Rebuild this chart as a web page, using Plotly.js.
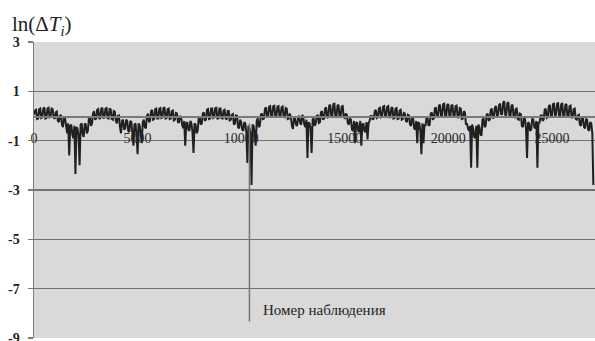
<!DOCTYPE html>
<html>
<head>
<meta charset="utf-8">
<script src="https://cdn.plot.ly/plotly-3.0.1.min.js"></script>
<style>
  html, body { margin: 0; padding: 0; background: #ffffff; }
  #chart { width: 595px; height: 341px; }
</style>
</head>
<body>
<div id="chart"></div>
<script>
// Observation number: one reading every 50 observations, starting at 0
const obsStart = 0;
const obsStep = 50;

// ln(ΔT_i) readings, twenty per 1000 observations
const lnDeltaT = [
  0.05, 0.22, 0.25, -0.12, -0.1, 0.27, 0.3, -0.08, -0.05, 0.3, 0.35, -0.1, -0.08, 0.3, 0.33, -0.05, -0.02, 0.3, 0.28, -0.05,
  -0.12, 0.15, 0.18, -0.2, -0.25, 0.0, 0.05, -0.35, -0.45, -0.05, -0.1, -0.55, -0.7, -0.3, -1.6, -0.4, -0.35, -0.75, -0.9, -0.4,
  -2.35, -0.45, -0.5, -0.8, -2.0, -0.35, -0.3, -0.75, -0.85, -0.3, -0.35, -0.7, -0.6, -0.1, -0.05, -0.4, -0.3, 0.1, 0.2, -0.15,
  -0.1, 0.25, 0.28, -0.12, -0.08, 0.3, 0.33, -0.1, -0.05, 0.3, 0.32, -0.08, -0.1, 0.28, 0.27, -0.12, -0.15, 0.2, 0.18, -0.2,
  -0.3, 0.0, 0.02, -0.45, -0.7, -0.2, -0.15, -0.55, -0.5, -0.15, -0.2, -0.6, -0.65, -0.2, -0.25, -0.7, -1.2, -0.35, -0.3, -0.75,
  -1.55, -0.3, -0.4, -0.7, -1.1, -0.25, -0.15, -0.45, -0.5, 0.0, 0.1, -0.25, -0.2, 0.2, 0.25, -0.15, -0.12, 0.28, 0.3, -0.1,
  -0.1, 0.3, 0.32, -0.08, -0.05, 0.32, 0.35, -0.1, -0.08, 0.28, 0.3, -0.12, -0.1, 0.2, 0.22, -0.18, -0.15, 0.12, 0.1, -0.25,
  -0.25, 0.0, -0.05, -0.35, -0.5, -0.2, -1.2, -0.3, -0.25, -0.55, -0.6, -0.2, -0.3, -0.65, -1.5, -0.3, -0.35, -0.7, -0.6, -0.1,
  -0.05, -0.35, -0.3, 0.1, 0.15, -0.2, -0.15, 0.25, 0.28, -0.12, -0.1, 0.3, 0.3, -0.08, -0.05, 0.32, 0.33, -0.1, -0.1, 0.3,
  0.3, -0.08, -0.1, 0.22, 0.25, -0.1, -0.12, 0.2, 0.2, -0.18, -0.15, 0.05, 0.08, -0.35, -0.3, 0.02, 0.0, -0.45, -0.5, -0.15,
  -0.25, -0.55, -0.6, -0.25, -0.3, -0.65, -1.9, -0.4, -0.5, -0.7, -2.8, -0.35, -0.4, -0.7, -1.2, -0.2, -0.1, -0.45, -0.4, 0.05,
  0.1, -0.12, -0.1, 0.3, 0.35, -0.05, 0.0, 0.38, 0.4, 0.0, 0.02, 0.4, 0.42, -0.05, -0.02, 0.38, 0.4, 0.02, 0.0, 0.35,
  0.38, -0.02, -0.05, 0.32, 0.3, -0.12, -0.1, 0.1, -0.05, -0.4, -0.52, -0.1, -0.1, -0.35, -0.4, -0.05, 0.0, -0.3, -0.35, 0.05,
  -0.05, -0.35, -0.45, -0.15, -1.7, -0.25, -0.3, -0.5, -1.5, -0.15, -0.1, -0.4, -0.3, 0.0, 0.05, -0.28, -0.25, 0.15, 0.2, -0.15,
  -0.1, 0.3, 0.35, -0.08, -0.05, 0.42, 0.45, -0.02, 0.0, 0.48, 0.5, -0.02, -0.05, 0.42, 0.45, -0.05, -0.02, 0.38, 0.4, -0.05,
  -0.08, 0.1, 0.05, -0.3, -0.35, -0.1, -0.15, -0.55, -0.6, -0.2, -1.1, -0.3, -0.25, -0.6, -0.65, -0.2, -1.2, -0.35, -0.3, -0.6,
  -0.65, -0.25, -0.95, -0.3, -0.2, 0.0, 0.0, -0.15, -0.1, 0.2, 0.25, -0.08, -0.05, 0.3, 0.33, -0.05, -0.02, 0.38, 0.4, -0.02,
  0.0, 0.38, 0.4, -0.05, -0.05, 0.32, 0.35, -0.1, -0.08, 0.3, 0.32, -0.12, -0.1, 0.22, 0.25, -0.15, -0.12, 0.12, 0.1, -0.2,
  -0.25, 0.05, 0.02, -0.35, -0.4, -0.05, -0.1, -0.5, -0.55, -0.2, -1.1, -0.25, -0.3, -0.6, -1.55, -0.3, -1.1, -0.35, -0.4, -0.05,
  -0.1, -0.4, -0.35, 0.1, 0.15, -0.12, -0.1, 0.3, 0.35, -0.05, 0.0, 0.42, 0.45, -0.02, 0.02, 0.48, 0.5, 0.0, 0.0, 0.45,
  0.48, 0.0, 0.02, 0.42, 0.45, -0.05, -0.02, 0.4, 0.42, -0.08, -0.05, 0.32, 0.3, -0.12, -0.1, 0.2, 0.15, -0.35, -0.3, -0.5,
  -0.6, -0.4, -2.1, -0.35, -0.5, -0.85, -0.9, -0.4, -2.1, -0.35, -0.45, -0.75, -0.8, -0.15, -0.1, -0.45, -0.4, 0.05, 0.1, -0.2,
  -0.15, 0.25, 0.3, -0.1, -0.05, 0.35, 0.4, 0.0, 0.05, 0.45, 0.5, 0.05, 0.08, 0.55, 0.6, 0.02, 0.05, 0.52, 0.55, 0.0,
  0.0, 0.42, 0.45, -0.02, -0.05, 0.28, 0.3, -0.12, -0.15, 0.1, 0.08, -0.4, -0.45, -0.1, -0.12, -0.5, -1.7, -0.25, -0.3, -0.6,
  -0.55, -0.1, -0.15, -0.45, -0.5, -0.2, -2.1, -0.25, -0.3, 0.0, 0.05, -0.2, -0.15, 0.25, 0.3, -0.08, -0.05, 0.4, 0.45, -0.02,
  0.0, 0.48, 0.5, 0.02, 0.05, 0.5, 0.52, 0.0, 0.02, 0.48, 0.5, -0.02, 0.0, 0.45, 0.48, -0.05, -0.02, 0.4, 0.42, -0.08,
  -0.05, 0.28, 0.3, -0.12, -0.15, 0.02, 0.05, -0.35, -0.4, -0.05, -0.1, -0.45, -0.5, -0.12, -0.15, -0.55, -0.6, -0.25, -0.3, -0.7, -2.8
];

// Axis ticks and labels
const xTickVals = [0, 5000, 10000, 15000, 20000, 25000];
const xTickText = ['0', '5000', '10000', '15000', '20000', '25000'];
const yTickVals = [3, 1, -1, -3, -5, -7, -9];
const yTickText = ['3', '1', '-1', '-3', '-5', '-7', '-9'];

// Marker line dropped from the deepest dip down to the caption
const markerObs = 10400;
const markerTop = -0.3;
const markerBottom = -8.33;

// Caption text and where it sits
const captionText = 'Номер наблюдения';
const captionObs = 10950;
const captionLevel = -7.85;

const obsIndex = lnDeltaT.map((_, i) => obsStart + i * obsStep);

const serif = '"Liberation Serif", "Times New Roman", serif';

const trace = {
  x: obsIndex,
  y: lnDeltaT,
  type: 'scatter',
  mode: 'lines',
  line: { color: '#202020', width: 2 },
  hoverinfo: 'skip'
};

const layout = {
  width: 595,
  height: 341,
  margin: { l: 34, r: 0, t: 42, b: 3, pad: 0 },
  paper_bgcolor: '#ffffff',
  plot_bgcolor: '#d9d9d9',
  showlegend: false,
  title: {
    text: 'ln(Δ<i>T<sub>i</sub></i>)',
    font: { family: serif, size: 21, color: '#222222' },
    xref: 'container', yref: 'container',
    x: 0.02, xanchor: 'left',
    y: 0.93, yanchor: 'middle'
  },
  xaxis: {
    range: [0, 27080],
    anchor: 'free',
    position: 0.75,
    showgrid: false,
    zeroline: false,
    showline: true,
    linecolor: '#7a7a7a',
    linewidth: 1.5,
    tickmode: 'array',
    tickvals: xTickVals,
    ticktext: xTickText,
    ticks: '',
    ticklabelstandoff: 9,
    tickfont: { family: serif, size: 14, color: '#2a2a2a' },
    fixedrange: true
  },
  yaxis: {
    range: [-9, 3],
    showgrid: true,
    gridcolor: '#727272',
    gridwidth: 1.5,
    zeroline: false,
    showline: true,
    linecolor: '#7a7a7a',
    linewidth: 1.5,
    tickmode: 'array',
    tickvals: yTickVals,
    ticktext: yTickText,
    ticks: 'outside',
    ticklen: 5,
    tickcolor: '#7a7a7a',
    tickwidth: 1.5,
    ticklabelstandoff: 5,
    ticklabeloverflow: 'allow',
    tickfont: { family: serif, size: 14, color: '#222222', weight: 'bold' },
    fixedrange: true
  },
  shapes: [{
    type: 'line',
    xref: 'x', yref: 'y',
    x0: markerObs, x1: markerObs,
    y0: markerTop, y1: markerBottom,
    line: { color: '#737373', width: 1.5 }
  }],
  annotations: [{
    text: captionText,
    xref: 'x', yref: 'y',
    x: captionObs, y: captionLevel,
    xanchor: 'left', yanchor: 'middle',
    showarrow: false,
    font: { family: serif, size: 15, color: '#222222' }
  }]
};

Plotly.newPlot('chart', [trace], layout, { staticPlot: true, displayModeBar: false });
</script>
</body>
</html>
